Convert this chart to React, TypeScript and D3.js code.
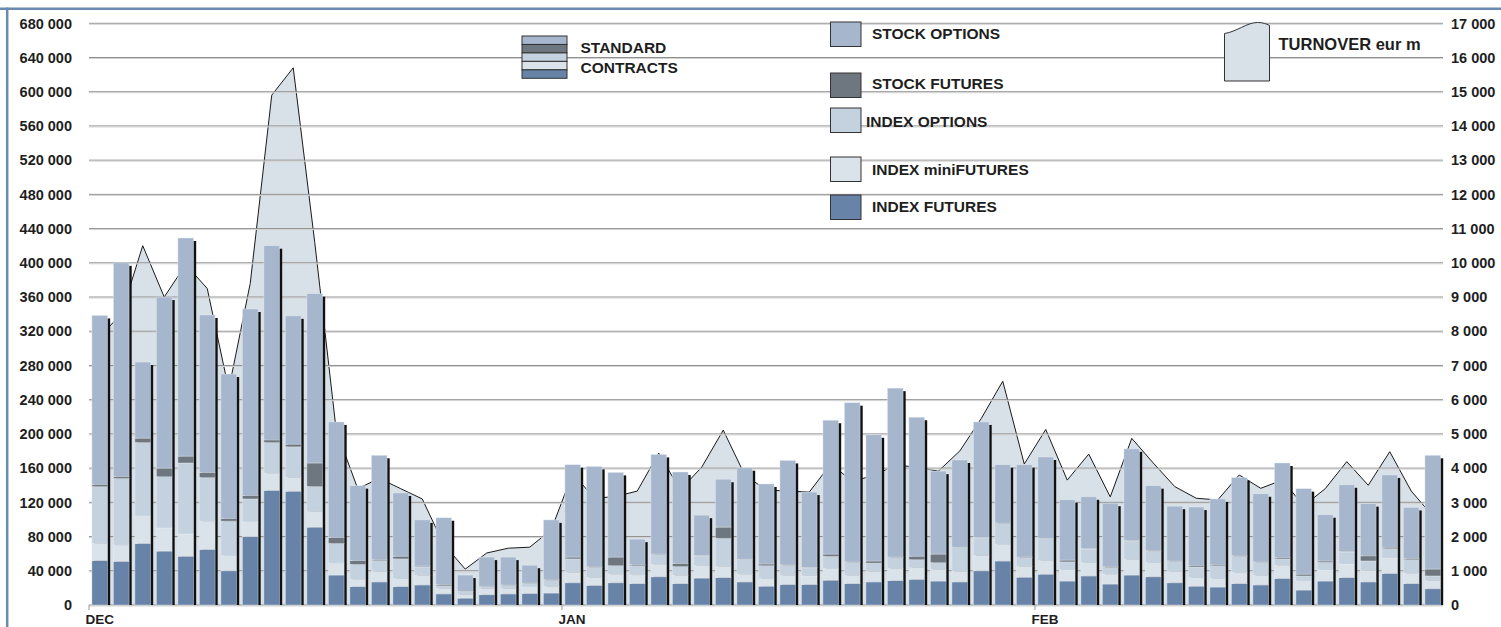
import React from 'react'
import * as d3 from 'd3'

// contracts per trading day, DEC..FEB
const indexFutures = [
	52000, 51000, 72000, 63000, 57000, 65000, 40000, 80000, 134000, 133000, 91000, 35000, 21500, 27000,
	21500, 23500, 13000, 8000, 12000, 13000, 13500, 14000, 26000, 23000, 26000, 25000, 33000, 25000,
	31500, 32000, 27000, 22000, 24000, 24000, 29000, 25000, 27000, 28500, 30000, 28000, 27000, 40000,
	51500, 32500, 36000, 28000, 34000, 24500, 35000, 33000, 26000, 22000, 21000, 25000, 23500, 31000,
	17500, 28000, 32000, 27000, 37000, 25000, 19000,
]
const indexMiniFutures = [
	20000, 19000, 32000, 27000, 26000, 33000, 18000, 17000, 20000, 16000, 18000, 14000, 8500, 12000,
	9500, 11000, 6000, 4000, 7000, 6000, 7500, 7500, 12000, 9000, 10000, 10000, 14500, 9500, 14500,
	13000, 9000, 9000, 10500, 10000, 14000, 9500, 12000, 14000, 13500, 13500, 12000, 17500, 19500,
	12500, 16000, 13000, 15500, 11500, 18000, 16500, 13000, 10000, 10000, 13000, 11000, 15500, 10500,
	13000, 16000, 13000, 18000, 12000, 9500,
]
const indexOptions = [
	66500, 78000, 86000, 60000, 83000, 51000, 40000, 27000, 36000, 36000, 29500, 23000, 17500, 13000,
	23000, 10000, 3500, 3500, 2500, 4000, 4000, 7500, 16000, 12000, 10000, 11000, 11500, 10500, 11500,
	33000, 17000, 15000, 12000, 9500, 14000, 15500, 10000, 13000, 9500, 8000, 28000, 21000, 24500,
	10500, 25500, 9500, 16000, 8000, 22000, 13500, 12000, 12500, 15000, 19000, 15500, 7500, 6000, 9000,
	14000, 11500, 11000, 16000, 5500,
]
const stockFutures = [
	2500, 2000, 5000, 10000, 8000, 6000, 3000, 4000, 3000, 3000, 27500, 7000, 4500, 1000, 3000, 1000,
	1500, 500, 500, 500, 500, 500, 2000, 500, 10000, 1500, 500, 3500, 500, 13000, 500, 2000, 500, 500,
	2500, 500, 2500, 500, 4000, 10000, 500, 500, 500, 500, 500, 2000, 500, 1000, 500, 500, 500, 1500,
	1500, 500, 500, 1500, 2000, 1500, 500, 6000, 1500, 1500, 8000,
]
const stockOptions = [
	197500, 250000, 89000, 200000, 255000, 184000, 169000, 218000, 227000, 150000, 198000, 135000,
	87500, 122000, 74000, 54000, 78000, 19000, 34000, 32500, 21000, 70000, 108000, 117500, 99000,
	29500, 116500, 107000, 47000, 56000, 107000, 93500, 122000, 88000, 156500, 186000, 147500, 197500,
	162500, 97000, 102000, 135000, 68000, 108000, 95000, 70500, 60500, 74000, 107000, 76000, 64000,
	68500, 76500, 91500, 79500, 110500, 100000, 54000, 78000, 61000, 84500, 59500, 133000,
]
// turnover, eur m
const turnover = [
	7850, 8500, 10500, 9000, 9950, 9250, 6300, 9400, 14900, 15700, 10600, 5100, 3400, 3700, 3400, 3100,
	1770, 1050, 1520, 1660, 1690, 2200, 3850, 3120, 3170, 3330, 4440, 3360, 4030, 5110, 3800, 3360,
	3330, 3300, 4120, 3620, 3780, 4090, 4030, 3910, 4500, 5450, 6540, 4120, 5130, 3650, 4410, 3160,
	4870, 4150, 3460, 3120, 3070, 3800, 3410, 3650, 2900, 3400, 4190, 3500, 4480, 3330, 2600,
]
const monthLabels = ['DEC', 'JAN', 'FEB']
const monthStarts = [0, 22, 44]
const seriesKeys = ['if', 'mini', 'io', 'sf', 'so']
const seriesNames = ['INDEX FUTURES', 'INDEX miniFUTURES', 'INDEX OPTIONS', 'STOCK FUTURES', 'STOCK OPTIONS']
const seriesColors = ['#6784a8', '#dae2ea', '#c4d1de', '#6e767f', '#a6b7cd']
const leftTicks = d3.range(0, 680001, 40000)
const rightTicks = d3.range(0, 17001, 1000)

const W = 1501
const H = 627
const font = '"Liberation Sans", Arial, sans-serif'
const fmt = d3.formatLocale({ decimal: '.', thousands: ' ', grouping: [3], currency: ['', ''] }).format(',')

const rows = indexFutures.map((v, i) => ({
	i,
	if: v,
	mini: indexMiniFutures[i],
	io: indexOptions[i],
	sf: stockFutures[i],
	so: stockOptions[i],
}))

const App = () => {
	const x = d3
		.scaleBand<number>()
		.domain(rows.map((d) => d.i))
		.range([89.5, 1443])
		.paddingInner(0.27)
		.paddingOuter(0.1115)
	const bw = x.bandwidth()
	const gap = (x.step() - bw) / 2
	const y = d3.scaleLinear().domain([0, 680000]).range([605, 23.3])
	const y2 = d3.scaleLinear().domain([0, 17000]).range([605, 23.3])

	const stacked = d3.stack<any>().keys(seriesKeys)(rows)

	const area = d3
		.area<number>()
		.x((d, i) => x(i)! + bw / 2)
		.y0(y2(0))
		.y1((d) => y2(d))
	const line = d3
		.line<number>()
		.x((d, i) => x(i)! + bw / 2)
		.y((d) => y2(d))

	const totals = rows.map((d) => d.if + d.mini + d.io + d.sf + d.so)

	// legend boxes, top to bottom
	const legendItems = [
		{ k: 4, y: 22, ty: 38.5, tx: 872 },
		{ k: 3, y: 73, ty: 88.5, tx: 872 },
		{ k: 2, y: 108, ty: 126.5, tx: 866 },
		{ k: 1, y: 157, ty: 174.5, tx: 872 },
		{ k: 0, y: 195, ty: 211.5, tx: 872 },
	]

	return (
		<svg width={W} height={H} style={{ position: 'absolute', left: 0, top: 0, background: '#fff' }}>
			{/* frame */}
			<line x1={0} x2={W} y1={8.7} y2={8.7} stroke="#6a8ab0" strokeWidth={2.6} />
			<line x1={7.2} x2={7.2} y1={7.5} y2={H} stroke="#6a8ab0" strokeWidth={2.5} />

			{/* turnover area */}
			<path d={area(turnover)!} fill="#d8e0e8" />
			<path d={line(turnover)!} fill="none" stroke="#1a1a1a" strokeWidth={1} />

			{/* grid */}
			{leftTicks.map((t) => (
				<g key={t}>
					<line x1={89} x2={1443} y1={y(t)} y2={y(t)} stroke="#8e8e8e" strokeWidth={1} />
					<line x1={89} x2={1443} y1={y(t) + 1} y2={y(t) + 1} stroke="#d2d2d2" strokeWidth={1} />
				</g>
			))}

			{/* bars */}
			{rows.map((d, i) => (
				<rect
					key={'s' + i}
					x={x(i)! + 2.6}
					y={y(totals[i]) + 3}
					width={bw}
					height={y(0) - y(totals[i]) - 3}
					fill="#111"
				/>
			))}
			{stacked.map((s, k) => (
				<g key={s.key} fill={seriesColors[k]}>
					{s.map((d, i) => (
						<rect
							key={i}
							x={x(i)}
							y={y(d[1])}
							width={bw}
							height={Math.max(0, y(d[0]) - y(d[1]))}
							stroke="rgba(235,240,245,0.55)"
							strokeWidth={0.7}
						/>
					))}
				</g>
			))}

			{/* month ticks */}
			{monthStarts.map((m, j) => (
				<g key={m}>
					<line x1={x(m)! - gap} x2={x(m)! - gap} y1={605} y2={610} stroke="#999" />
					<text
						x={x(m)! - gap - 3.5}
						y={623.5}
						fontFamily={font}
						fontWeight="bold"
						fontSize={13.5}
						fill="#1e1e1e"
					>
						{monthLabels[j]}
					</text>
				</g>
			))}

			{/* axes labels */}
			{leftTicks.map((t) => (
				<text
					key={'l' + t}
					x={72}
					y={y(t)}
					dy="0.36em"
					textAnchor="end"
					fontFamily={font}
					fontWeight="bold"
					fontSize={14.5}
					fill="#1e1e1e"
				>
					{fmt(t)}
				</text>
			))}
			{rightTicks.map((t) => (
				<text
					key={'r' + t}
					x={1451}
					y={y2(t)}
					dy="0.36em"
					fontFamily={font}
					fontWeight="bold"
					fontSize={14.5}
					fill="#1e1e1e"
				>
					{fmt(t)}
				</text>
			))}

			{/* legend */}
			{[4, 3, 2, 1, 0].map((k, j) => (
				<rect
					key={'std' + k}
					x={522}
					y={36 + j * 8.46}
					width={45}
					height={8.46}
					fill={seriesColors[k]}
					stroke="#333"
					strokeWidth={1}
				/>
			))}
			<text x={580.5} y={53} fontFamily={font} fontWeight="bold" fontSize={15.5} fill="#1e1e1e">
				STANDARD
			</text>
			<text x={580.5} y={73} fontFamily={font} fontWeight="bold" fontSize={15.5} fill="#1e1e1e">
				CONTRACTS
			</text>
			{legendItems.map((it) => (
				<g key={'lg' + it.k}>
					<rect
						x={830.5}
						y={it.y}
						width={30.5}
						height={24.5}
						fill={seriesColors[it.k]}
						stroke="#333"
						strokeWidth={1}
					/>
					<text x={it.tx} y={it.ty} fontFamily={font} fontWeight="bold" fontSize={15.5} fill="#1e1e1e">
						{seriesNames[it.k]}
					</text>
				</g>
			))}
			<path
				d="M1224.5,81 L1224.5,33.5 C1236,32 1247,22.5 1257.5,22.5 C1262.5,22.5 1266.5,23.8 1269.5,25.5 L1269.5,81 Z"
				fill="#d8e0e8"
				stroke="#333"
				strokeWidth={1}
			/>
			<text x={1278.5} y={50} fontFamily={font} fontWeight="bold" fontSize={16.5} fill="#1e1e1e">
				TURNOVER eur m
			</text>
		</svg>
	)
}

export default App
